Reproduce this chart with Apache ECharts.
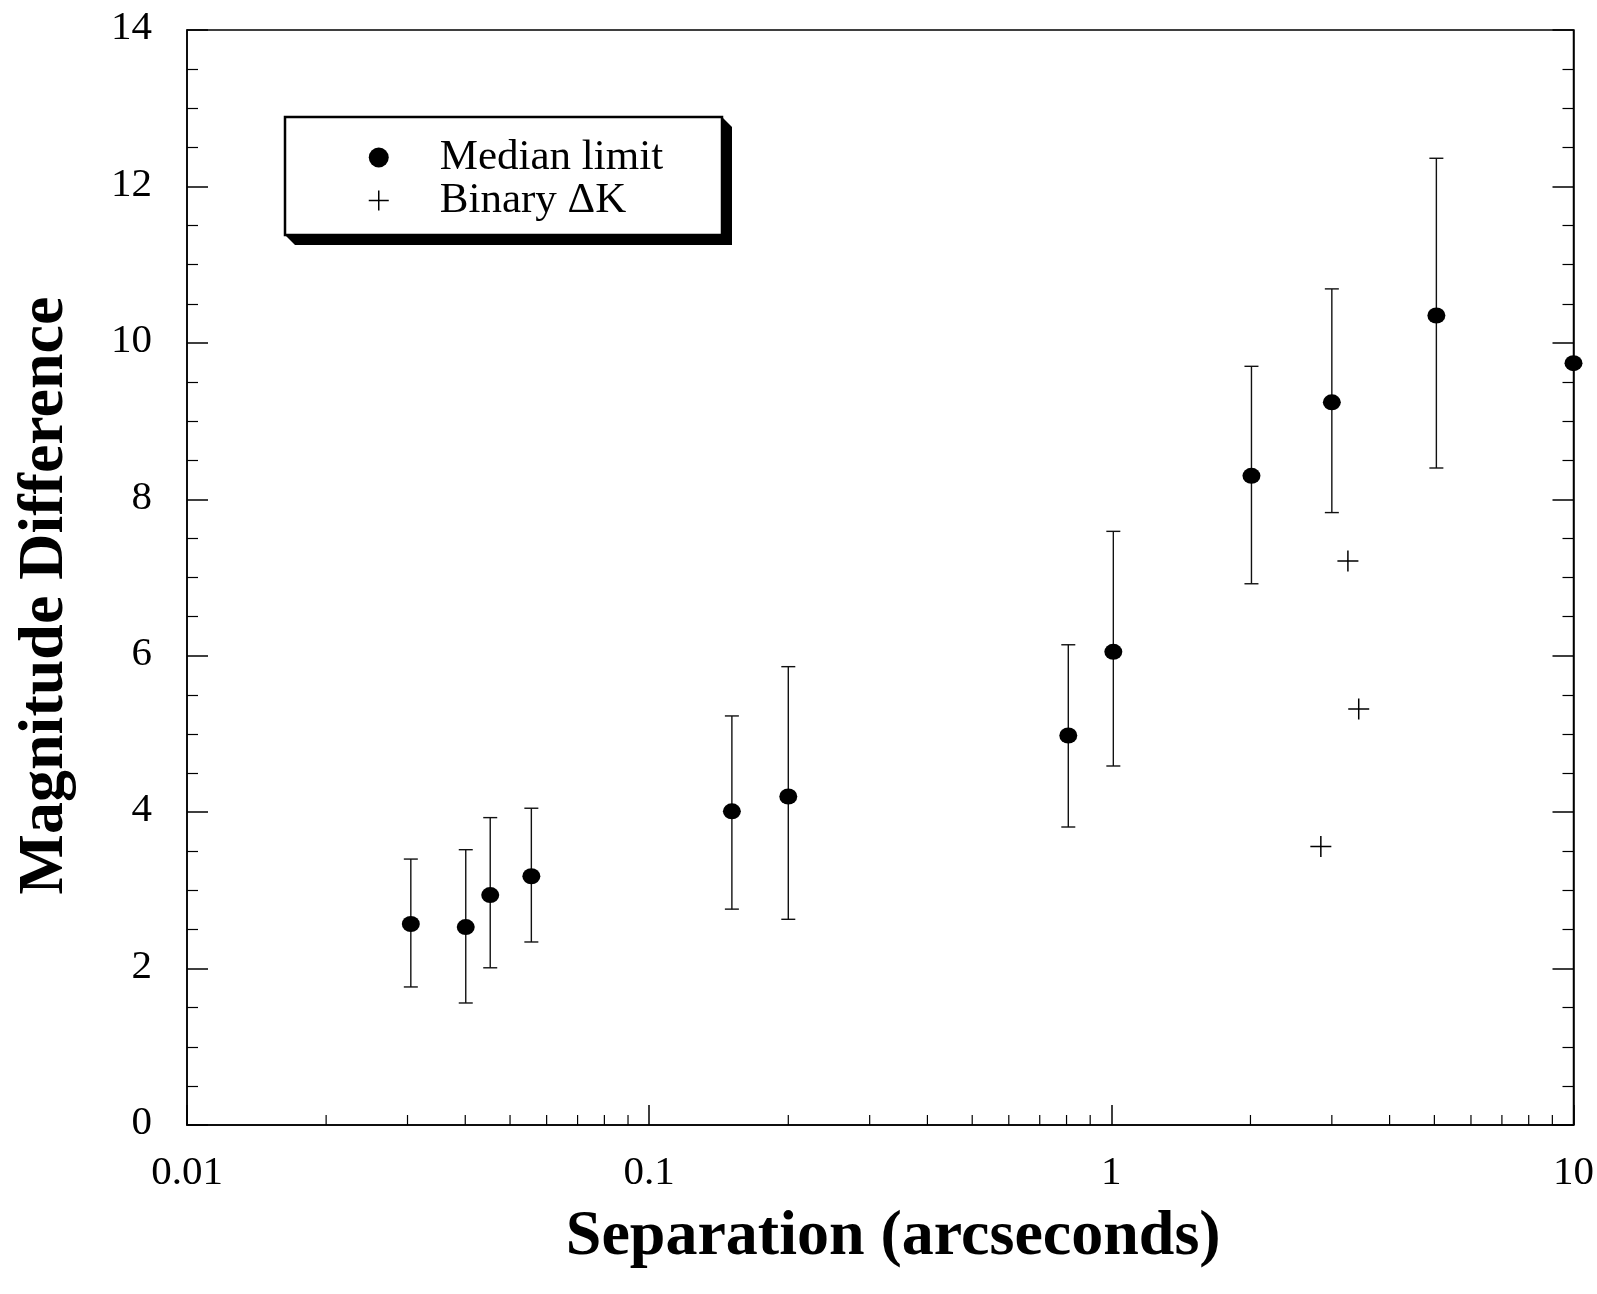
<!DOCTYPE html>
<html>
<head>
<meta charset="utf-8">
<script src="https://cdn.jsdelivr.net/npm/echarts@6/dist/echarts.min.js"></script>
<style>
html,body{margin:0;padding:0;background:#fff;}
#chart{width:1597px;height:1294px;}
</style>
</head>
<body>
<div id="chart"></div>
<script>
// ---- data ----
const sepMedian = [0.0305, 0.0401, 0.0453, 0.0556, 0.151, 0.200, 0.807, 1.01, 2.01, 3.00, 5.05, 10];
const magMedian = [2.57, 2.53, 2.94, 3.18, 4.01, 4.20, 4.98, 6.05, 8.30, 9.24, 10.35, 9.74];
const errLow    = [1.765, 1.56, 2.01, 2.34, 2.76, 2.63, 3.81, 4.59, 6.92, 7.83, 8.40, null];
const errHigh   = [3.40, 3.52, 3.93, 4.05, 5.23, 5.86, 6.14, 7.59, 9.70, 10.69, 12.36, null];
const sepBinary = [3.25, 3.43, 2.84];
const magBinary = [7.21, 5.32, 3.56];
const xMinorTicks = [0.02,0.03,0.04,0.05,0.06,0.07,0.08,0.09,0.2,0.3,0.4,0.5,0.6,0.7,0.8,0.9,2,3,4,5,6,7,8,9];
const seriesNames = ['Median limit', 'Binary ΔK'];
const xTitle = 'Separation (arcseconds)';
const yTitle = 'Magnitude Difference';

const serif = '"Liberation Serif", "DejaVu Serif", serif';
const plusPath = 'path://M0,10L20,10M10,0L10,20';

const chart = echarts.init(document.getElementById('chart'));

const medianData = sepMedian.map((x, i) => [x, magMedian[i]]);
const errData = sepMedian.map((x, i) => [x, errLow[i], errHigh[i]]).filter(d => d[1] != null);
const binaryData = sepBinary.map((x, i) => [x, magBinary[i]]);

const option = {
  animation: false,
  backgroundColor: '#fff',
  grid: { left: 187, right: 22, top: 30, bottom: 169, show: true, borderColor: '#000', borderWidth: 1.5, backgroundColor: 'transparent' },
  graphic: [
    { type: 'polygon', z: 5, shape: { points: [[285,117],[722,117],[732,127],[732,245],[295,245],[285,235]] }, style: { fill: '#000' } },
    { type: 'rect', z: 6, shape: { x: 285, y: 117, width: 437, height: 118 }, style: { fill: '#fff', stroke: '#000', lineWidth: 2.5 } }
  ],
  legend: {
    z: 10,
    orient: 'vertical',
    left: 363,
    top: 131,
    itemWidth: 20,
    itemHeight: 20,
    itemGap: 0,
    data: [
      { name: seriesNames[0], icon: 'circle', itemStyle: { color: '#000', opacity: 1 } },
      { name: seriesNames[1], icon: plusPath, itemStyle: { color: 'transparent', borderColor: '#000', borderWidth: 1.5 } }
    ],
    textStyle: { fontFamily: serif, fontSize: 43, color: '#000', lineHeight: 42, padding: [0, 0, 0, 46] }
  },
  xAxis: [{
    type: 'log', logBase: 10, min: 0.01, max: 10,
    axisLine: { show: true, lineStyle: { color: '#000', width: 1.5 } },
    axisTick: { show: true, inside: true, length: 20, lineStyle: { color: '#000', width: 1.5 } },
    splitLine: { show: false },
    axisLabel: { fontFamily: serif, fontSize: 41, color: '#000', margin: 28,
      formatter: v => String(parseFloat(Number(v).toPrecision(3))) },
    name: xTitle, nameLocation: 'middle', nameGap: 80,
    nameTextStyle: { fontFamily: serif, fontWeight: 'bold', fontSize: 64, color: '#000', padding: [0, 0, 0, 26] }
  }],
  yAxis: [{
    type: 'value', min: 0, max: 14, interval: 2, position: 'left',
    axisLine: { show: true, lineStyle: { color: '#000', width: 1.5 } },
    axisTick: { show: true, inside: true, length: 21, lineStyle: { color: '#000', width: 1.5 } },
    minorTick: { show: true, splitNumber: 4, length: 11, lineStyle: { color: '#000', width: 1.2 } },
    splitLine: { show: false },
    axisLabel: { fontFamily: serif, fontSize: 41, color: '#000', margin: 35, verticalAlign: 'bottom', lineHeight: 41, padding: [0,0,-19,0] },
    name: yTitle, nameLocation: 'middle', nameGap: 110,
    nameTextStyle: { fontFamily: serif, fontWeight: 'bold', fontSize: 64, color: '#000', padding: [0, 36, 0, 0] }
  }, {
    type: 'value', min: 0, max: 14, interval: 2, position: 'right',
    axisLine: { show: true, lineStyle: { color: '#000', width: 1.5 } },
    axisTick: { show: true, inside: true, length: 21, lineStyle: { color: '#000', width: 1.5 } },
    minorTick: { show: true, splitNumber: 4, length: 11, lineStyle: { color: '#000', width: 1.2 } },
    splitLine: { show: false },
    axisLabel: { show: false }
  }],
  series: [
    {
      name: 'xMinorTicks', type: 'custom', silent: true, z: 1,
      data: xMinorTicks.map(v => [v, 0]),
      renderItem: (params, api) => {
        const p = api.coord([api.value(0), 0]);
        return { type: 'line', shape: { x1: p[0], y1: p[1], x2: p[0], y2: p[1] - 10 }, style: { stroke: '#000', lineWidth: 1.2 } };
      }
    },
    {
      name: 'errorBars', type: 'custom', silent: true, z: 2, clip: false,
      data: errData,
      renderItem: (params, api) => {
        const x = api.value(0);
        const lo = api.coord([x, api.value(1)]);
        const hi = api.coord([x, api.value(2)]);
        const cap = 7;
        const st = { stroke: '#111', lineWidth: 1.4 };
        return { type: 'group', children: [
          { type: 'line', shape: { x1: lo[0], y1: lo[1], x2: hi[0], y2: hi[1] }, style: st },
          { type: 'line', shape: { x1: lo[0]-cap, y1: lo[1], x2: lo[0]+cap, y2: lo[1] }, style: st },
          { type: 'line', shape: { x1: hi[0]-cap, y1: hi[1], x2: hi[0]+cap, y2: hi[1] }, style: st }
        ]};
      }
    },
    {
      name: seriesNames[0], type: 'scatter', z: 3, clip: false,
      symbol: 'circle', symbolSize: [18, 16],
      itemStyle: { color: '#000', opacity: 1 },
      data: medianData
    },
    {
      name: seriesNames[1], type: 'scatter', z: 3, clip: false,
      symbol: plusPath, symbolSize: 21,
      itemStyle: { color: 'transparent', borderColor: '#000', borderWidth: 1.5, opacity: 1 },
      data: binaryData
    }
  ]
};
chart.setOption(option);
</script>
</body>
</html>
